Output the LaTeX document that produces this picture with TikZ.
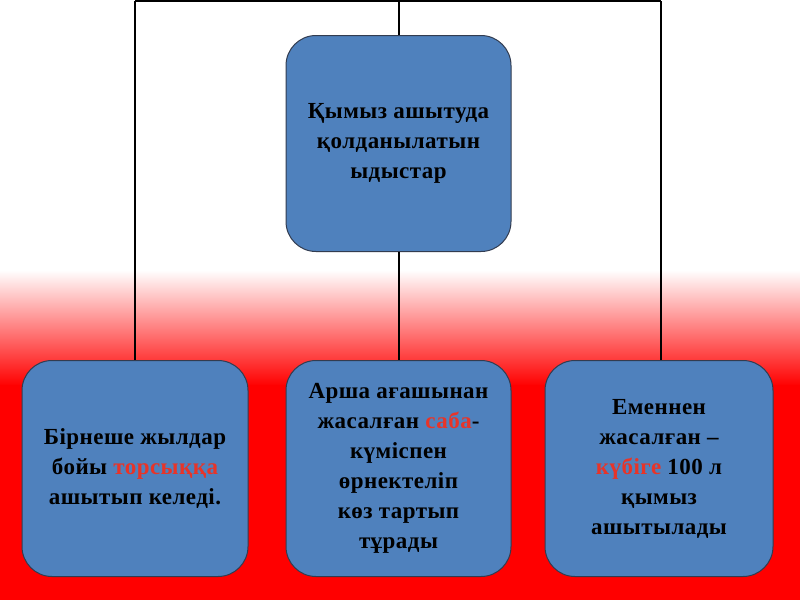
\documentclass[tikz,border=0pt]{standalone}
\usepackage{fontspec}
\setmainfont{Liberation Serif}
\definecolor{boxblue}{RGB}{79,129,189}
\definecolor{boxedge}{RGB}{50,60,80}
\definecolor{hired}{RGB}{232,52,40}
\begin{document}
\begin{tikzpicture}[x=1pt,y=-1pt,
  card/.style={draw=boxedge,line width=1pt,fill=boxblue,rounded corners=30pt,
    minimum width=225pt,minimum height=216pt,inner sep=0pt,align=center,
    font=\fontsize{23}{30}\selectfont\bfseries\addfontfeature{LetterSpace=2}},
  link/.style={draw=black,line width=2pt}]
\useasboundingbox (0,0) rectangle (800,600);
\fill[white] (0,0) rectangle (800,270);
\shade[top color=white,bottom color=red] (0,270) rectangle (800,386);
\fill[red] (0,385) rectangle (800,600);
\node[card] (top) at (398.5,143.5) {Қымыз ашытуда\\ қолданылатын\\ыдыстар};
\node[card,minimum width=226pt] (left) at (135,468.5) {Бірнеше жылдар\\бойы \textcolor{hired}{торсыққа}\\ашытып келеді.};
\node[card] (mid) at (398.5,468.5) {Арша ағашынан\\жасалған \textcolor{hired}{саба}-\\күміспен\\өрнектеліп\\көз тартып\\тұрады};
\node[card,minimum width=228pt] (right) at (659,468.5) {Еменнен\\жасалған –\\\textcolor{hired}{күбіге} 100 л\\қымыз\\ашытылады};
\coordinate (hl) at (135,1);
\coordinate (hm) at (398.5,1);
\coordinate (hr) at (661,1);
\draw[link] (hl) -- (hr);
\draw[link] (hm) -- (top.north);
\draw[link] (top.south) -- (mid.north);
\draw[link] (hl) -- (left.north);
\draw[link] (hr) -- (hr |- right.north);
\end{tikzpicture}
\end{document}
